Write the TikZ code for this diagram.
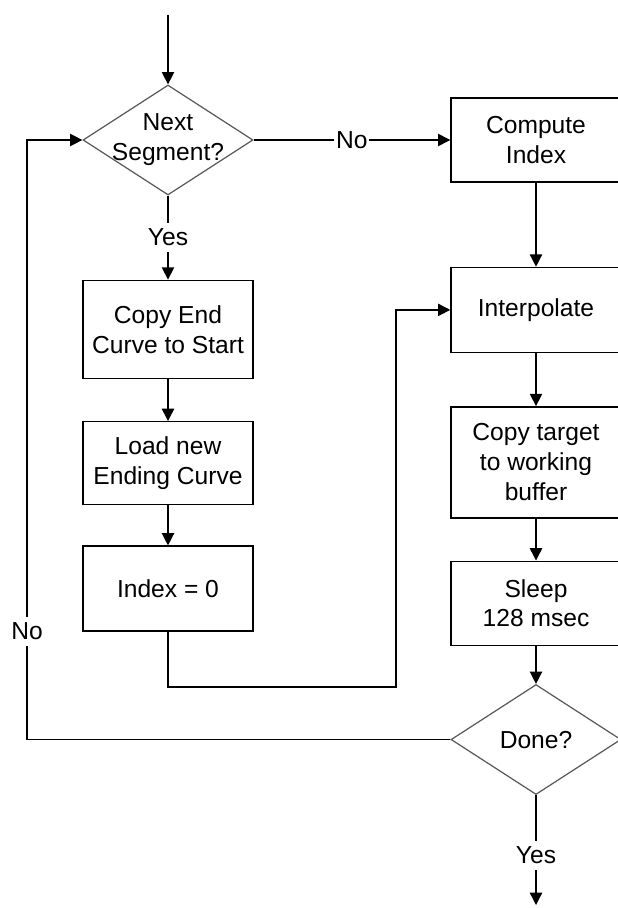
\documentclass[tikz,border=0pt]{standalone}
\usepackage{fontspec}
\setmainfont{Liberation Sans}
\usetikzlibrary{positioning,shapes.geometric,arrows.meta}

\tikzset{
  block/.style={draw, minimum width=3.4cm, align=center, inner sep=2pt},
  decision/.style={diamond, draw=black!65, line width=0.7pt, minimum width=3.4cm, minimum height=2.2cm, inner sep=0pt},
  tag/.style={fill=white, inner sep=3.5pt},
}

\begin{document}
\begin{tikzpicture}[font=\fontsize{14}{17}\selectfont, line width=0.8pt,
    >={Stealth[length=7pt,width=7pt,inset=0pt]}]
  \useasboundingbox (0,0) rectangle (12.36,-18.16);

  % left column
  \coordinate (start) at (3.36,-0.30);
  \node[decision] (next) at (3.36,-2.80) {};
  \node (nextlbl) at (next) [align=center] {Next\\Segment?};
  \node[block, minimum height=1.96cm] (copyend) [below=1.68cm of next] {Copy End\\Curve to Start};
  \node[block, minimum height=1.66cm] (loadnew) [below=0.84cm of copyend] {Load new\\Ending Curve};
  \node[block, minimum height=1.70cm] (idx) [below=0.80cm of loadnew] {Index = 0};

  % right column
  \node[block, minimum height=1.68cm] (compute) at (10.72,-2.80) {Compute\\Index};
  \node[block, minimum height=1.70cm] (interp) [below=1.68cm of compute] {Interpolate};
  \node[block, minimum height=2.22cm] (copytgt) [below=1.06cm of interp] {Copy target\\to working\\buffer};
  \node[block, minimum height=1.68cm] (sleep) [below=0.84cm of copytgt] {Sleep\\128 msec};
  \node[decision] (done) [below=0.76cm of sleep] {};
  \node (donelbl) at (done) {Done?};

  \coordinate (joint) at (7.92,-13.74);
  \coordinate (back) at (0.54,-14.86);
  \coordinate (finish) at (10.72,-18.10);

  \draw[->] (start) -- (next);
  \draw[->] (next) -- node[tag, inner xsep=1pt] {No} (compute);
  \draw[->] (next) -- node[tag] {Yes} (copyend);
  \draw[->] (copyend) -- (loadnew);
  \draw[->] (loadnew) -- (idx);
  \draw[->] (idx.south) |- (joint) |- (interp.west);
  \draw[->] (compute) -- (interp);
  \draw[->] (interp) -- (copytgt);
  \draw[->] (copytgt) -- (sleep);
  \draw[->] (sleep) -- (done);
  \draw[->] (done) -- node[tag, pos=0.55] {Yes} (finish);
  \draw[->] (done.west) -- (done.west -| back) -- node[tag, pos=0.18] {No} (back |- next.west) -- (next.west);
\end{tikzpicture}
\end{document}
